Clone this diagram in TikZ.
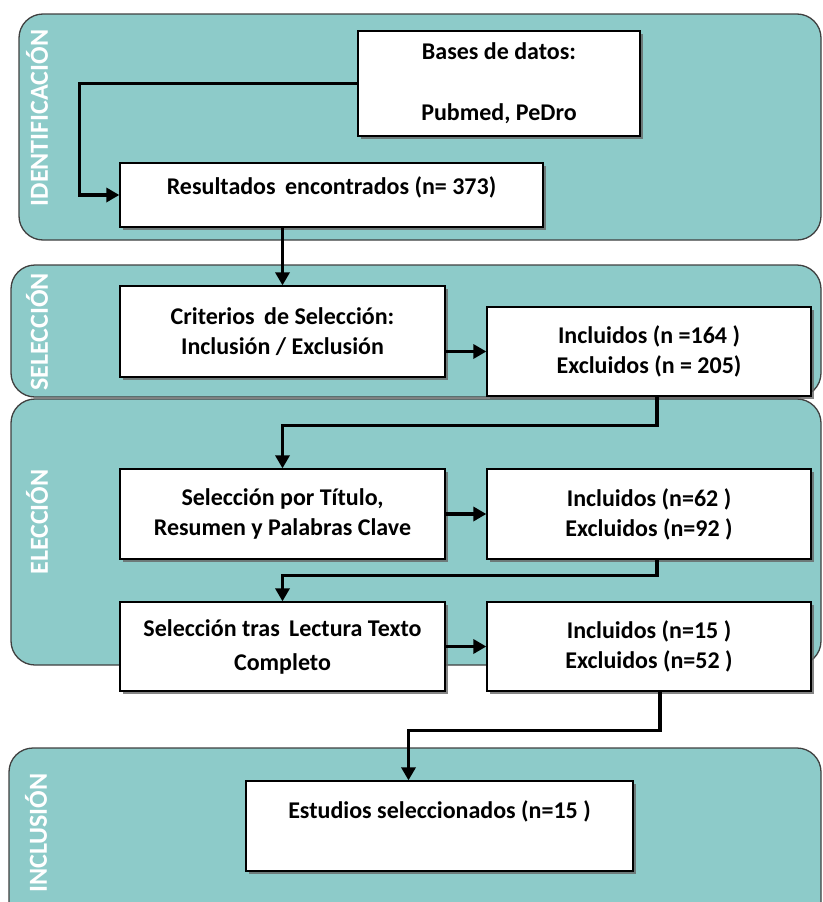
\documentclass[tikz,border=0pt]{standalone}
\usepackage{fontspec}
\setmainfont{Carlito}
\usetikzlibrary{arrows.meta,shadows}
\definecolor{panelteal}{RGB}{141,203,201}
\definecolor{paneledge}{RGB}{64,64,64}
\tikzset{
  panel/.style={draw=paneledge, line width=1.3pt, fill=panelteal, rounded corners=24pt},
  stage/.style={rotate=90, text=white, font=\bfseries\fontsize{26}{28}\selectfont},
  box/.style={draw, line width=1.3pt, fill=white, inner sep=0pt, align=center,
    font=\bfseries\fontsize{24}{30}\selectfont,
    drop shadow={shadow xshift=3pt, shadow yshift=-3pt, fill=black!60, opacity=.8}},
  flow/.style={line width=3.5pt, -{Triangle[length=13pt,width=14pt]}}
}
\begin{document}
\begin{tikzpicture}[x=1pt,y=-1pt]
  \clip (0,0) rectangle (822,902);
  \draw[panel] (19,14) rectangle (821,240);
  \draw[panel] (11,265) rectangle (821,397);
  \draw[panel] (11,399) rectangle (821,665);
  \draw[panel] (9,748) rectangle (821,930);
  \node (idlab) [stage] at (37,118) {IDENTIFICACIÓN};
  \node (sellab) [stage] at (37,332) {SELECCIÓN};
  \node (elelab) [stage] at (37,522) {ELECCIÓN};
  \node (inclab) [stage] at (36,833) {INCLUSIÓN};
  \node (bases) [box, minimum width=282pt, minimum height=105pt] at (499,83.5) {Bases de datos:\\[31pt]Pubmed, PeDro};
  \node (res) [box, minimum width=423pt, minimum height=64pt, text depth=19pt] at (331.5,195) {Resultados \,encontrados (n= 373)};
  \node (crit) [box, minimum width=325pt, minimum height=91pt] at (282.5,331.5) {Criterios \,de Selección:\\Inclusión / Exclusión};
  \node (inc1) [box, minimum width=324pt, minimum height=89pt] at (649,351.5) {Incluidos (n =164 )\\Excluidos (n = 205)};
  \node (tit) [box, minimum width=325pt, minimum height=90pt] at (282.5,514) {Selección por Título,\\Resumen y Palabras Clave};
  \node (inc2) [box, minimum width=324pt, minimum height=90pt] at (649,514) {Incluidos (n=62 )\\Excluidos (n=92 )};
  \node (lec) [box, minimum width=325pt, minimum height=89pt] at (282.5,646.5) {Selección tras \,Lectura Texto\\[4pt]Completo};
  \node (inc3) [box, minimum width=324pt, minimum height=89pt] at (649,646.5) {Incluidos (n=15 )\\Excluidos (n=52 )};
  \node (est) [box, minimum width=387pt, minimum height=90pt, text depth=33pt] at (439.5,826) {Estudios seleccionados (n=15 )};
  \draw[flow] (bases.west) -- ++(-278,0) |- (res.west);
  \draw[flow] (crit.north |- res.south) -- (crit.north);
  \draw[flow] (crit.east |- inc1.west) -- (inc1.west);
  \draw[flow] ([xshift=8pt]inc1.south) -- ++(0,29) -| (tit.north);
  \draw[flow] (tit.east) -- (inc2.west);
  \draw[flow] ([xshift=8pt]inc2.south) -- ++(0,16) -| (lec.north);
  \draw[flow] (lec.east) -- (inc3.west);
  \draw[flow] ([xshift=11pt]inc3.south) -- ++(0,39) -| ([xshift=-31pt]est.north);
\end{tikzpicture}
\end{document}
